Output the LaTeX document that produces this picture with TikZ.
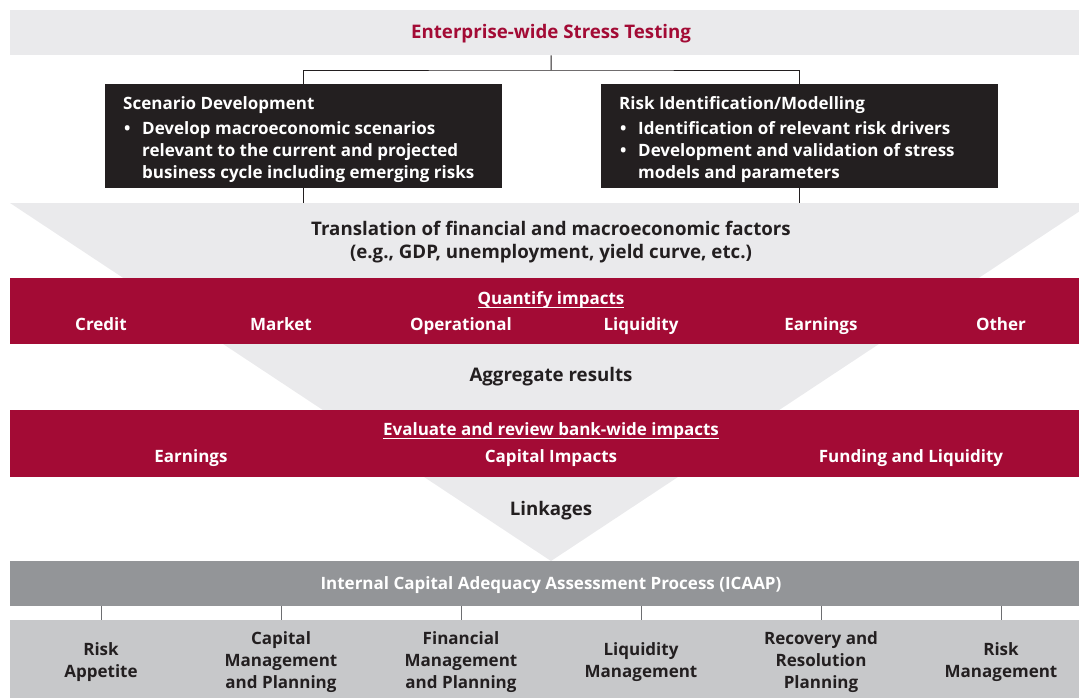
\documentclass[tikz,border=0pt]{standalone}
\usepackage{fontspec}
\setmainfont{Open Sans}
\usetikzlibrary{positioning}
\definecolor{bankred}{HTML}{A30B35}
\definecolor{funnelgray}{HTML}{EAEAEC}
\definecolor{icaapgray}{HTML}{939598}
\definecolor{basegray}{HTML}{C7C8CA}
\definecolor{inkblack}{HTML}{231F20}
\definecolor{tickgray}{HTML}{6D6E71}
\newcommand{\bulletline}[1]{\makebox[19pt][l]{\hspace{1pt}\textbullet}#1}
\newcommand{\contline}[1]{\makebox[19pt]{}#1}
\newcommand{\ulbar}[1]{\setbox0\hbox{#1}\rlap{\rule[-4pt]{\wd0}{1.2pt}}\box0}

\begin{document}
\begin{tikzpicture}[x=1pt,y=-1pt]
	\tikzstyle{txt}=[inner sep=0pt, anchor=base, font=\fontsize{17}{22}\selectfont\bfseries]
	\tikzstyle{bigtxt}=[txt, font=\fontsize{18.7}{23}\selectfont\bfseries]
	\tikzstyle{dark}=[txt, text=inkblack, align=center]
	\tikzstyle{light}=[txt, text=white, align=center]
	\tikzstyle{bar}=[rectangle, inner sep=0pt, minimum width=1082pt, anchor=north west]
	\tikzstyle{blackbox}=[rectangle, inner sep=0pt, fill=inkblack, minimum width=397pt, minimum height=104pt, anchor=north west]
	\tikzstyle{connect}=[line width=1pt, draw=inkblack]
	\tikzstyle{tick}=[line width=1pt, draw=tickgray]
	\useasboundingbox (0,0) rectangle (1079,697);
	\clip (0,0) rectangle (1079,697);
	\fill[funnelgray] (10,203) -- (1092,203) -- (551,561) -- cycle;
	\coordinate (ftop) at (551,203);
	\node[bar, fill=funnelgray, minimum height=45pt] (top) at (10,10) {};
	\node[bigtxt, text=bankred] (toptxt) at (551,38) {Enterprise-wide Stress Testing};
	\node[blackbox] (scen) at (105,84) {};
	\node[blackbox] (risk) at (601,84) {};
	\node[txt, text=white, align=left, anchor=base west] (scentxt) at (123,178) {Scenario Development\\[3pt]
		\bulletline{Develop macroeconomic scenarios}\\
		\contline{relevant to the current and projected}\\
		\contline{business cycle including emerging risks}};
	\node[txt, text=white, align=left, anchor=base west] (risktxt) at (619,178) {Risk Identification/Modelling\\[3pt]
		\bulletline{Identification of relevant risk drivers}\\
		\bulletline{Development and validation of stress}\\
		\contline{models and parameters}};
	\coordinate (fork) at (551,70);
	\draw[connect] (top.south) -- (fork);
	\draw[connect] (scen.north) |- (fork) -| (risk.north);
	\draw[connect] (scen.south) -- (scen.south |- ftop);
	\draw[connect] (risk.south) -- (risk.south |- ftop);
	\node[bigtxt, text=inkblack, align=center] (transl) at (551,258) {Translation of financial and macroeconomic factors\\(e.g., GDP, unemployment, yield curve, etc.)};
	\node[bar, fill=bankred, minimum height=66pt] (quant) at (10,278) {};
	\node[light] (quanttxt) at (551,304) {\ulbar{Quantify impacts}};
	\foreach \x/\t [count=\i] in {101/Credit, 281/Market, 461/Operational, 641/Liquidity, 821/Earnings, 1001/Other}
		\node[light] (kind\i) at (\x,330) {\t};
	\node[bigtxt, text=inkblack] (aggr) at (551,381) {Aggregate results};
	\node[bar, fill=bankred, minimum height=67pt] (eval) at (10,410) {};
	\node[light] (evaltxt) at (551,435) {\ulbar{Evaluate and review bank-wide impacts}};
	\foreach \x/\t [count=\i] in {191/Earnings, 551/Capital Impacts, 911/Funding and Liquidity}
		\node[light] (bank\i) at (\x,462) {\t};
	\node[bigtxt, text=inkblack] (link) at (551,515) {Linkages};
	\node[bar, fill=icaapgray, minimum height=45pt] (icaap) at (10,561) {};
	\node[light] (icaaptxt) at (551,589) {Internal Capital Adequacy Assessment Process (ICAAP)};
	\node[bar, fill=basegray, minimum height=80pt] (base) at (10,620) {};
	\foreach \x/\y/\t [count=\i] in {101/677/{Risk\\Appetite}, 281/688/{Capital\\Management\\and Planning}, 461/688/{Financial\\Management\\and Planning}, 641/677/{Liquidity\\Management}, 821/688/{Recovery and\\Resolution\\Planning}, 1001/677/{Risk\\Management}}
	{
		\node[dark] (use\i) at (\x,\y) {\t};
		\draw[tick] (icaap.south -| use\i) -- (base.north -| use\i);
	}
\end{tikzpicture}
\end{document}
